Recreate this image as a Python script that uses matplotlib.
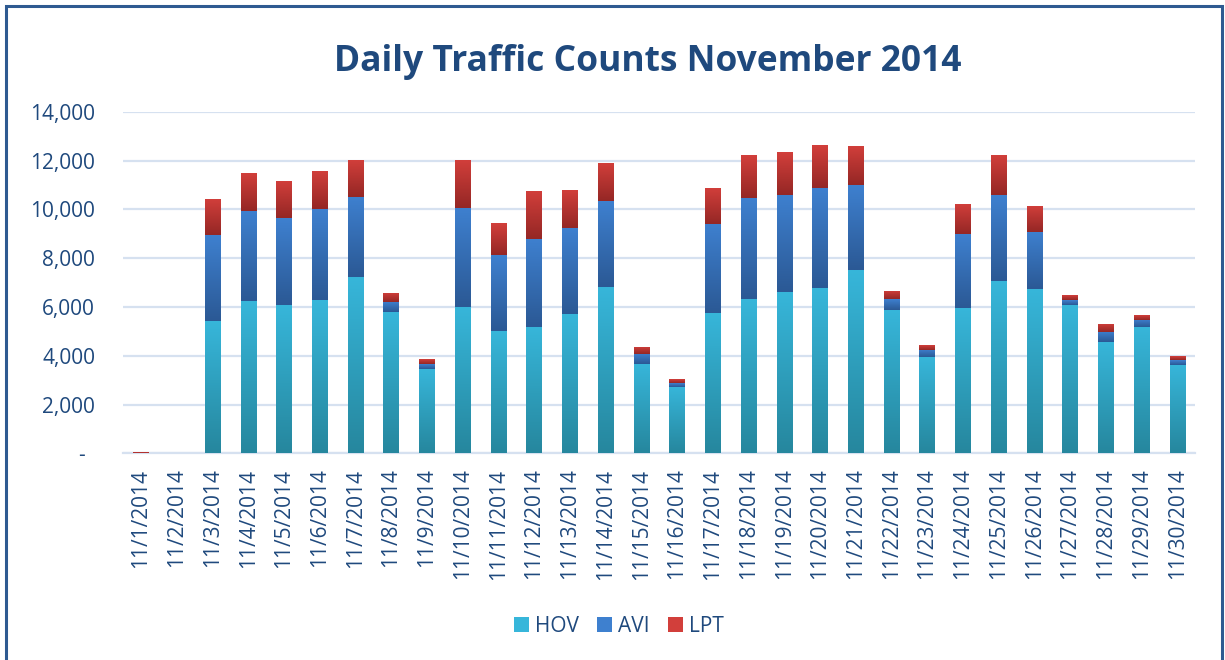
import numpy as np
import matplotlib
matplotlib.use("Agg")
import matplotlib.pyplot as plt
from matplotlib.patches import Rectangle, Patch
from matplotlib.colors import LinearSegmentedColormap
import matplotlib.transforms as mtrans

# ---- data ----
dates = [f"11/{d}/2014" for d in range(1, 31)]
hov = [0, 0, 5420, 6240, 6080, 6280, 7230, 5790, 3460, 6000,
       5010, 5180, 5710, 6820, 3660, 2720, 5750, 6320, 6610, 6780,
       7510, 5870, 3950, 5960, 7060, 6730, 6080, 4560, 5180, 3620]
avi = [0, 0, 3520, 3690, 3560, 3730, 3280, 410, 200, 4060,
       3110, 3610, 3520, 3520, 410, 160, 3650, 4140, 3980, 4100,
       3480, 450, 290, 3030, 3520, 2340, 200, 410, 290, 200]
lpt = [40, 0, 1480, 1560, 1520, 1560, 1520, 370, 200, 1970,
       1310, 1970, 1560, 1560, 290, 160, 1480, 1760, 1760, 1760,
       1600, 330, 200, 1230, 1640, 1070, 200, 330, 200, 160]
series_names = ["HOV", "AVI", "LPT"]
yticks = [0, 2000, 4000, 6000, 8000, 10000, 12000, 14000]
ytick_labels = ["-", "2,000", "4,000", "6,000", "8,000", "10,000", "12,000", "14,000"]
title = "Daily Traffic Counts November 2014"

# ---- style ----
W, H = 1225, 660
txt_color = "#1F497D"
grad = {
    "HOV": ("#37B6DA", "#26879E"),
    "AVI": ("#3E80CF", "#2B5995"),
    "LPT": ("#D23F3B", "#952725"),
}
font = "Open Sans"
fs = 15

fig = plt.figure(figsize=(W / 100, H / 100), dpi=100)
fig.patch.set_facecolor("white")
ax = fig.add_axes([123 / W, 1 - 453.3 / H, (1195 - 123) / W, (453.3 - 111.7) / H])

x = np.arange(len(dates))
bw = 0.42
bottoms = np.zeros(len(dates))
all_bars = []
for name, vals in zip(series_names, [hov, avi, lpt]):
    bars = ax.bar(x, vals, bw, bottom=bottoms, color=grad[name][0], zorder=3,
                  linewidth=0, label=name)
    all_bars.append((name, bars))
    bottoms = bottoms + np.array(vals)

# gradient fill for each segment
gimg = np.linspace(0, 1, 64).reshape(-1, 1)
for name, bars in all_bars:
    cmap = LinearSegmentedColormap.from_list(name, [grad[name][0], grad[name][1]])
    for p in bars:
        hgt = p.get_height()
        if hgt <= 0:
            continue
        x0, y0 = p.get_x(), p.get_y()
        im = ax.imshow(gimg, extent=(x0, x0 + p.get_width(), y0, y0 + hgt),
                       origin="upper", cmap=cmap, aspect="auto", zorder=3.5,
                       interpolation="bilinear")
        im.set_clip_path(p)
ax.set_xlim(-0.5, len(dates) - 0.5)
ax.set_ylim(0, 14000)
ax.set_aspect("auto")

ax.set_yticks(yticks)
ax.set_yticklabels(ytick_labels)
ax.set_xticks(x)
ax.set_xticklabels(dates, rotation=90)
for lab in ax.get_yticklabels() + ax.get_xticklabels():
    lab.set_fontfamily(font)
    lab.set_fontsize(fs)
    lab.set_color(txt_color)
ax.tick_params(axis="y", length=0, pad=20)
ax.tick_params(axis="x", length=0, pad=11)

# shift "-" label left like accounting format
zl = ax.get_yticklabels()[0]
zl.set_transform(zl.get_transform() + mtrans.ScaledTranslation(-10 / 100, 0, fig.dpi_scale_trans))

ax.grid(axis="y", color="#D6E1F0", linewidth=1.6, zorder=0)
ax.set_axisbelow(True)
for s in ["top", "right", "left"]:
    ax.spines[s].set_visible(False)
ax.spines["bottom"].set_color("#D6E1F0")
ax.spines["bottom"].set_linewidth(1.6)

fig.text(647.5 / W, 1 - 62 / H, title, ha="center", va="center",
         fontsize=25.5, fontweight="bold", color=txt_color, fontfamily=font)

handles = [Patch(facecolor=grad[n][0], edgecolor="none") for n in series_names]
leg = fig.legend(handles, series_names, loc="center", bbox_to_anchor=(619 / W, 1 - 626 / H),
                 ncol=3, frameon=False, handlelength=0.72, handleheight=0.72,
                 handletextpad=0.3, columnspacing=0.85,
                 prop={"family": font, "size": fs})
for t in leg.get_texts():
    t.set_color(txt_color)

# outer frame
frame = Rectangle((5.5 / W, -0.05), (1222 - 5.5) / W, 1.05 - 6.5 / H,
                  transform=fig.transFigure, fill=False, edgecolor="#2E5A91",
                  linewidth=2.2)
fig.patches.append(frame)

fig.savefig("out.png", dpi=100)
